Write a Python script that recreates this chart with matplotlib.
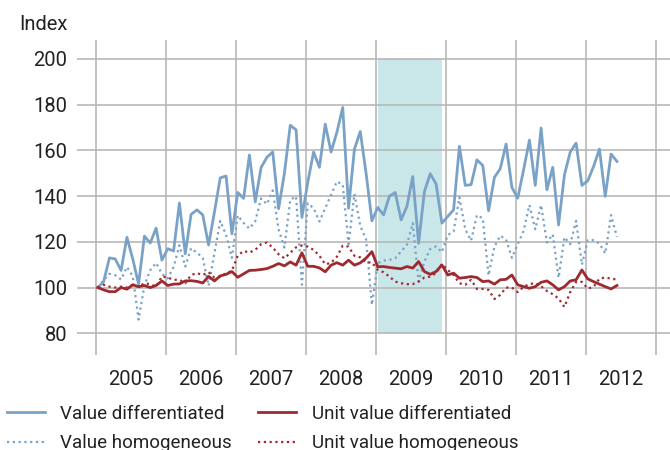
import numpy as np
import matplotlib
matplotlib.use("Agg")
import matplotlib.pyplot as plt
from matplotlib.lines import Line2D

# monthly index values, Jan 2005 .. Jun 2012
value_diff = [
    100, 102.5, 113, 112.5, 107.5, 122, 112.5, 101.5, 122.5, 119.5, 126, 112,
    117, 116, 137, 114.8, 132, 134, 131.8, 118.6, 133, 148, 148.8, 123.5,
    141.6, 139, 158, 137.5, 152.5, 157, 159.3, 134.5, 150, 171, 169, 130.7,
    146, 159.3, 152.6, 171.5, 159.3, 168, 178.8, 134.7, 160.5, 168.3, 150, 129.2,
    135, 131.8, 140, 141.6, 129.6, 135.5, 148.6, 119.4, 142, 149.8, 145.3, 128.2,
    131.1, 134, 161.8, 144.7, 145, 155.9, 153.4, 133.6, 148.2, 152, 162.8, 143.8,
    139.1, 151.5, 164.5, 144.7, 169.8, 142.8, 152.6, 127.4, 149.3, 159.3, 163.2, 144.7,
    146.7, 153, 160.6, 139.9, 158.4, 155.2,
]
value_homo = [
    100, 103.2, 106, 105.4, 103.5, 109, 105, 86, 101, 107.6, 110.8, 106,
    104, 109, 118.5, 109.2, 117.2, 115.3, 113, 100.8, 115, 129.2, 123, 113,
    131.5, 128.3, 125.8, 129, 139, 136.5, 142.5, 125.5, 117.5, 138.4, 139.9, 101.2,
    136.9, 134.7, 128.9, 134.7, 140.6, 146.4, 145, 119, 141, 127, 121, 92.4,
    110.7, 111.8, 112.1, 112.8, 115.8, 118.7, 128.2, 102.6, 111.4, 116.9, 118, 115.5,
    123, 124.5, 139.5, 125.5, 120.5, 131.7, 130.3, 105.3, 118, 122.7, 121, 113,
    119, 124.8, 136.1, 125.5, 136.1, 119.7, 123.3, 104.3, 122, 119, 129.2, 110,
    120.7, 120.7, 119.3, 114.9, 131.7, 122.2,
]
unit_diff = [
    100, 99, 98.2, 98.2, 100, 99.3, 101.2, 100.4, 100.9, 100, 100.9, 102.9,
    100.9, 101.5, 101.6, 102.9, 103, 102.7, 102, 104.9, 102.9, 105.1, 105.8, 107,
    104.5, 106, 107.5, 107.6, 107.9, 108.3, 109.3, 110.5, 109.5, 111.2, 109.8, 115.2,
    109.3, 109.3, 108.6, 106.9, 109.8, 110.9, 109.8, 112, 109.8, 110.8, 112.9, 115.7,
    109.1, 109.2, 108.8, 108.5, 108.2, 109.2, 108.5, 111.4, 107, 105.8, 107, 109.9,
    105.5, 106.3, 104.1, 104.4, 104.8, 104.4, 102.6, 102.9, 101.5, 103.4, 103.6, 105.5,
    101.2, 100.4, 99.7, 100.4, 102.3, 102.9, 101.2, 99, 100.4, 102.9, 103.4, 107.7,
    103.8, 102.6, 101.5, 100.4, 99.4, 100.9,
]
unit_homo = [
    100, 101.2, 100.4, 100, 100.4, 100, 101.2, 100.4, 101.9, 101.5, 100.4, 104.8,
    104.4, 103.4, 103.4, 101.9, 105.5, 106.3, 105.5, 106.7, 104.4, 104.8, 106.3, 107.3,
    114, 116, 115.3, 116.5, 119, 119.7, 117.5, 114.6, 112.8, 115.2, 117.6, 118.4,
    117.9, 116.5, 113.9, 110.2, 110.8, 113.5, 118.3, 117.9, 113.9, 113.2, 111, 111,
    107.7, 106.7, 104.8, 102.6, 101.9, 101.5, 101.5, 102.6, 104.4, 104.8, 106.3, 110.3,
    107.7, 105.5, 101.9, 101.2, 103.4, 99.4, 99.4, 99, 95, 96.8, 100, 100,
    98, 100.3, 101.5, 102, 100.6, 98.5, 97.1, 95.2, 91.5, 98.1, 102.5, 102.5,
    99.6, 100.3, 103.9, 104.4, 103.9, 103.5,
]
years = [2005, 2006, 2007, 2008, 2009, 2010, 2011, 2012]
yticks = [80, 100, 120, 140, 160, 180, 200]
shade_span = (2009.03, 2009.94)

labels = ["Value differentiated", "Value homogeneous",
          "Unit value differentiated", "Unit value homogeneous"]

BLUE = "#7aa2c7"
RED = "#9e2a2f"
GRID = "#b8b8b8"
TEXT = "#222222"

plt.rcParams["font.family"] = ["Roboto", "DejaVu Sans"]
plt.rcParams["font.size"] = 13

x = years[0] + (np.arange(len(value_diff)) + 0.3) / 12

fig = plt.figure(figsize=(6.7, 4.5), dpi=100)
ax = fig.add_axes([77 / 670, 1 - 355 / 450, 593 / 670, 315 / 450])

ax.fill_between(shade_span, yticks[0], yticks[-1], color="#c9e6e9", lw=0, zorder=0.2)

dot = (0, (1, 1.6))
ax.plot(x, value_diff, color=BLUE, lw=2.0, zorder=3)
ax.plot(x, value_homo, color=BLUE, lw=1.6, ls=dot, zorder=3)
ax.plot(x, unit_diff, color=RED, lw=2.0, zorder=4)
ax.plot(x, unit_homo, color=RED, lw=1.6, ls=dot, zorder=4)

ax.set_xlim(years[0] - 19 / 70, years[0] + 574 / 70)
ax.set_ylim(70.5, 208.3)

ax.set_xticks(years + [years[-1] + 1])
ax.set_xticklabels([])
ax.set_xticks([y + 0.5 for y in years], minor=True)
ax.set_xticklabels([str(y) for y in years], minor=True)
ax.set_yticks(yticks)
ax.tick_params(axis="both", which="both", length=0, colors=TEXT, labelsize=14.5)
ax.tick_params(axis="y", pad=7)
ax.tick_params(axis="x", which="minor", pad=11)

ax.set_axisbelow(True)
ax.grid(True, which="major", color=GRID, lw=1.2)
for s in ax.spines.values():
    s.set_visible(False)

fig.text(68 / 670, 1 - 24 / 450, "Index", ha="right", va="center", color=TEXT, fontsize=14.5)

handles = [
    Line2D([], [], color=BLUE, lw=2.0),
    Line2D([], [], color=BLUE, lw=1.6, ls=dot),
    Line2D([], [], color=RED, lw=2.0),
    Line2D([], [], color=RED, lw=1.6, ls=dot),
]
leg = fig.legend(handles, labels, loc="upper left", bbox_to_anchor=(7 / 670, 1 - 405 / 450),
                 ncol=2, frameon=False, fontsize=13.5, handlelength=2.0,
                 handletextpad=0.85, columnspacing=1.4, labelspacing=0.6,
                 borderaxespad=0, borderpad=0)
for t in leg.get_texts():
    t.set_color(TEXT)

fig.savefig("out.png", dpi=100)
